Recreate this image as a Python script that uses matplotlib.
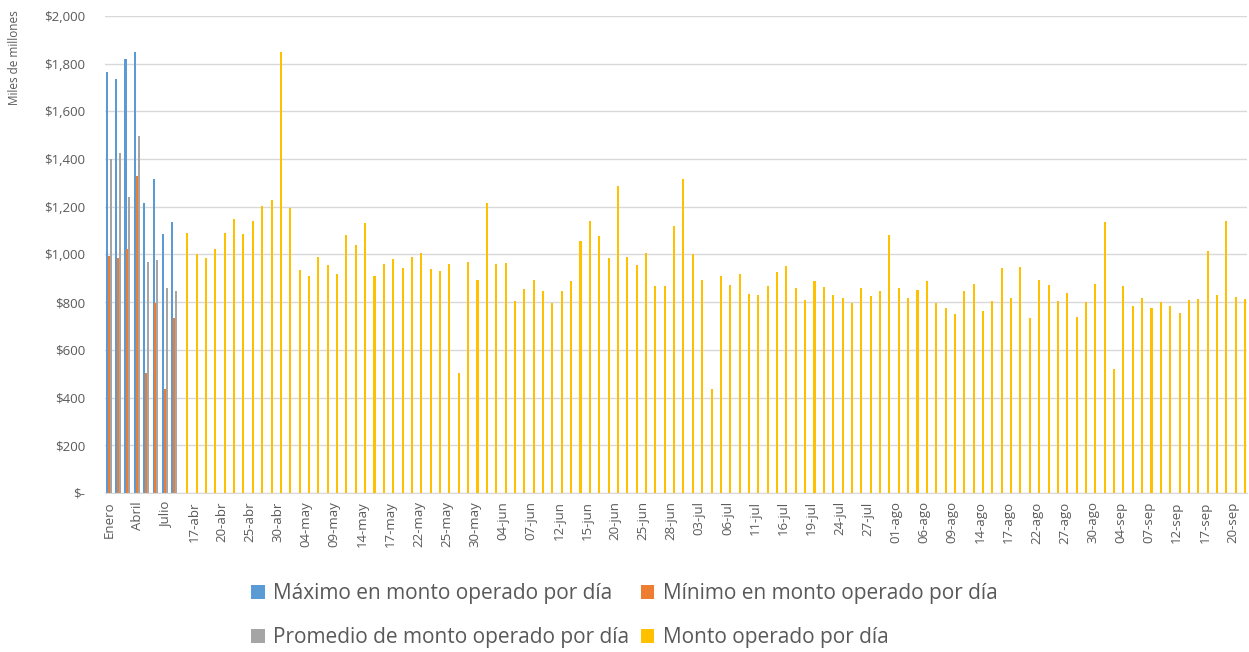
import matplotlib
matplotlib.use("Agg")
import matplotlib.pyplot as plt
from matplotlib.ticker import FuncFormatter
import numpy as np
import pandas as pd

plt.rcParams["font.family"] = ["Open Sans", "DejaVu Sans"]

# categorias: 8 meses y luego dias habiles (16-abr a 21-sep, sin 1-may)
meses = ["Enero", "Febrero", "Marzo", "Abril", "Mayo", "Junio", "Julio", "Agosto"]
nombres_mes = {4: "abr", 5: "may", 6: "jun", 7: "jul", 8: "ago", 9: "sep"}
dias = pd.bdate_range("2018-04-16", "2018-09-21")
dias = dias[dias != pd.Timestamp("2018-05-01")]
etiquetas_dias = [f"{d.day:02d}-{nombres_mes[d.month]}" for d in dias]
categorias = meses + etiquetas_dias

# valores mensuales (miles de millones)
maximo = [1767, 1736, 1818, 1849, 1217, 1315, 1085, 1138]
minimo = [995, 984, 1021, 1330, 503, 797, 436, 734]
promedio = [1399, 1427, 1239, 1495, 970, 977, 859, 845]

# monto operado por dia
monto_dia = [
    1091, 1001, 987, 1024, 1092, 1148, 1086, 1142, 1204, 1228,
    1851, 1195, 934, 908, 991, 957, 918, 1080, 1038, 1133,
    911, 962, 982, 942, 990, 1007, 940, 929, 962, 503,
    967, 895, 1217, 959, 965, 805, 855, 894, 845, 797,
    845, 889, 1055, 1142, 1078, 985, 1288, 988, 954, 1005,
    869, 869, 1119, 1316, 1004, 894, 435, 909, 873, 917,
    835, 831, 869, 928, 953, 858, 808, 889, 862, 828,
    817, 796, 858, 824, 845, 1083, 858, 816, 849, 887,
    796, 777, 752, 847, 875, 765, 805, 942, 817, 946,
    734, 895, 872, 805, 839, 737, 799, 876, 1138, 521,
    869, 783, 817, 774, 800, 786, 755, 810, 814, 1015,
    830, 1142, 822, 813,
]

n = len(categorias)
x = np.arange(n)
xm = np.arange(len(meses))
xd = np.arange(len(meses), n)
w = 0.2

fig = plt.figure(figsize=(12.49, 6.52), dpi=100)
ax = fig.add_axes([0.084, 0.2439, 0.9144, 0.7316])

estilo = dict(lw=0, zorder=2, antialiased=False)
b1 = ax.bar(xm - 1.5 * w, maximo, w * 1.1, color="#5B9BD5", **estilo)
b2 = ax.bar(xm - 0.5 * w, minimo, w * 1.1, color="#ED7D31", **estilo)
b3 = ax.bar(xm + 0.5 * w, promedio, w * 1.1, color="#A5A5A5", **estilo)
b4 = ax.bar(xd + 1.5 * w, monto_dia, w * 1.1, color="#FFC000", **estilo)

ax.set_xlim(-0.5, n - 0.5)
ax.set_ylim(0, 2000)
ax.set_yticks(range(0, 2001, 200))
ax.yaxis.set_major_formatter(FuncFormatter(lambda v, p: "$-" if v == 0 else f"${v:,.0f}"))
ax.set_xticks(x[::3])
ax.set_xticklabels(categorias[::3], rotation=90)

ax.grid(axis="y", color="#D9D9D9", linewidth=1, zorder=0)
for s in ["top", "right", "left"]:
    ax.spines[s].set_visible(False)
ax.spines["bottom"].set_color("#D9D9D9")
ax.tick_params(axis="both", length=0, colors="#595959", labelsize=9.5)
ax.tick_params(axis="y", pad=14)
ax.tick_params(axis="x", pad=6)

fig.text(0.012, 0.985, "Miles de millones", rotation=90, ha="center", va="top",
         fontsize=8.5, color="#595959")

# orden para que las filas queden como en el original
handles = [b1, b3, b2, b4]
labels = ["Máximo en monto operado por día", "Promedio de monto operado por día",
          "Mínimo en monto operado por día", "Monto operado por día"]
fig.legend(handles, labels, loc="upper center", bbox_to_anchor=(0.5, 0.134), ncol=2,
           frameon=False, fontsize=15, labelcolor="#595959", handlelength=0.65,
           handleheight=0.65, handletextpad=0.4, columnspacing=0.55, labelspacing=1.1)

fig.savefig("out.png", dpi=100)
